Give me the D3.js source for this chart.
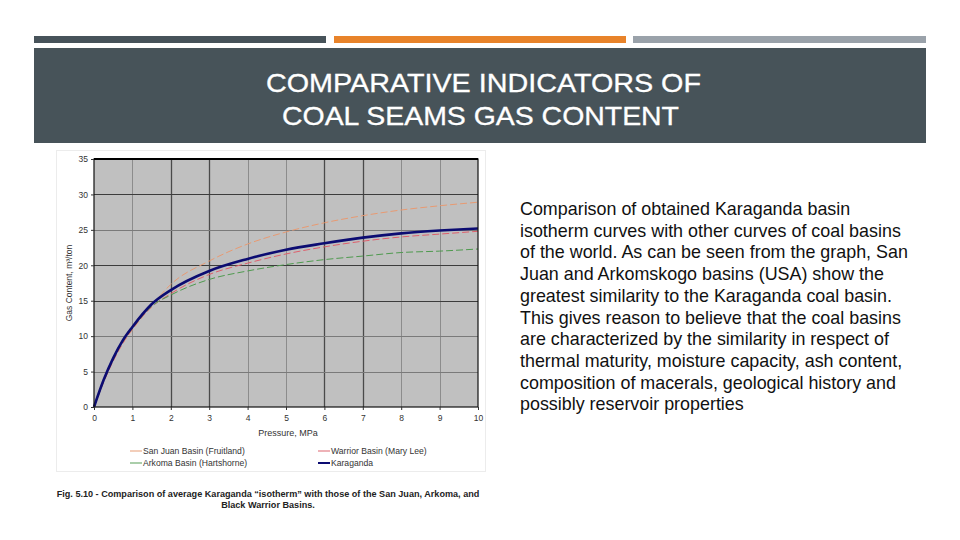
<!DOCTYPE html>
<html>
<head>
<meta charset="utf-8">
<script src="https://cdn.jsdelivr.net/npm/d3@7"></script>
<style>
  html, body { margin: 0; padding: 0; background: #ffffff; }
  svg { display: block; font-family: "Liberation Sans", Arial, sans-serif; }
</style>
</head>
<body>
<svg id="chart" width="960" height="540"></svg>
<script>
// ---- data ----
const pressure = [0, 0.25, 0.5, 0.75, 1, 1.5, 2, 3, 4, 5, 6, 7, 8, 9, 10];
const sanJuan   = [0, 3.5, 6.5, 9.0, 10.9, 14.3, 17.3, 20.6, 23.0, 24.7, 26.0, 27.0, 27.8, 28.4, 28.9];
const warrior   = [0, 3.5, 6.5, 9.0, 11.0, 14.1, 16.0, 18.7, 20.3, 21.6, 22.6, 23.4, 24.0, 24.4, 24.8];
const arkoma    = [0, 3.6, 6.7, 9.2, 11.1, 14.2, 15.8, 18.0, 19.2, 20.1, 20.8, 21.3, 21.8, 22.0, 22.3];
const karaganda = [0, 3.8, 6.9, 9.4, 11.3, 14.5, 16.5, 19.2, 20.9, 22.2, 23.1, 23.9, 24.5, 24.9, 25.2];
const seriesNames = ["San Juan Basin (Fruitland)", "Warrior Basin (Mary Lee)", "Arkoma Basin (Hartshorne)", "Karaganda"];
const xTicks = [0, 1, 2, 3, 4, 5, 6, 7, 8, 9, 10];
const yTicks = [0, 5, 10, 15, 20, 25, 30, 35];
const titleLines = ["COMPARATIVE INDICATORS OF", "COAL SEAMS GAS CONTENT"];
const paragraph = [
  "Comparison of obtained Karaganda basin",
  "isotherm curves with other curves of coal basins",
  "of the world. As can be seen from the graph, San",
  "Juan and Arkomskogo basins (USA) show the",
  "greatest similarity to the Karaganda coal basin.",
  "This gives reason to believe that the coal basins",
  "are characterized by the similarity in respect of",
  "thermal maturity, moisture capacity, ash content,",
  "composition of macerals, geological history and",
  "possibly reservoir properties"
];
const captionLines = [
  "Fig. 5.10 - Comparison of average Karaganda \u201cisotherm\u201d with those of the San Juan, Arkoma, and",
  "Black Warrior Basins."
];

(function () {
const svg = d3.select("#chart");

// ---- slide header ----
const barColors = ["#47535a", "#e8832a", "#9aa2aa"];
const bars = [[34, 326], [334, 626], [633, 926]];
bars.forEach((b, i) => {
  svg.append("rect").attr("x", b[0]).attr("y", 36).attr("width", b[1] - b[0]).attr("height", 7).attr("fill", barColors[i]);
});
svg.append("rect").attr("x", 34).attr("y", 48).attr("width", 892).attr("height", 95).attr("fill", "#475359");
const titleX = [266, 282], titleW = [435, 397];
svg.append("g").selectAll("text").data(titleLines).join("text")
  .attr("x", (d, i) => titleX[i])
  .attr("y", (d, i) => 91.5 + i * 33)
  .attr("textLength", (d, i) => titleW[i])
  .attr("lengthAdjust", "spacingAndGlyphs")
  .attr("fill", "#ffffff")
  .attr("stroke", "#ffffff").attr("stroke-width", 0.3)
  .attr("font-size", 26)
  .text(d => d);

// ---- paragraph ----
svg.append("g").selectAll("text").data(paragraph).join("text")
  .attr("x", 520)
  .attr("y", (d, i) => 215 + i * 21.7)
  .attr("fill", "#111")
  .attr("font-size", 17.9)
  .text(d => d);

// ---- chart figure ----
svg.append("rect").attr("x", 56.5).attr("y", 150.5).attr("width", 429).attr("height", 321)
  .attr("fill", "#fff").attr("stroke", "#ececec").attr("stroke-width", 1);

const pL = 94, pR = 478, pT = 159, pB = 407;
const x = d3.scaleLinear().domain([0, 10]).range([pL, pR]);
const y = d3.scaleLinear().domain([0, 35]).range([pB, pT]);

svg.append("rect").attr("x", pL).attr("y", pT).attr("width", pR - pL).attr("height", pB - pT).attr("fill", "#c0c0c0");

// grid
const darkX = new Set([2, 3, 6, 7]);
svg.append("g").selectAll("line").data(xTicks.filter(t => t > 0 && t < 10)).join("line")
  .attr("x1", d => Math.round(x(d)) + 0.5).attr("x2", d => Math.round(x(d)) + 0.5)
  .attr("y1", pT).attr("y2", pB)
  .attr("stroke", d => darkX.has(d) ? "#4a4a4a" : "#8c8c8c").attr("stroke-width", d => darkX.has(d) ? 1.3 : 1);
const lightY = new Set([25, 10, 5]);
svg.append("g").selectAll("line").data(yTicks.filter(t => t > 0 && t < 35)).join("line")
  .attr("x1", pL).attr("x2", pR)
  .attr("y1", d => Math.round(y(d)) + 0.5).attr("y2", d => Math.round(y(d)) + 0.5)
  .attr("stroke", d => lightY.has(d) ? "#7a7a7a" : "#3c3c3c").attr("stroke-width", 1);

// series
const series = [
  { name: seriesNames[0], values: sanJuan, color: "#e89a72", width: 1, dash: "7,3" },
  { name: seriesNames[1], values: warrior, color: "#de5f6c", width: 1, dash: "7,3" },
  { name: seriesNames[2], values: arkoma, color: "#4f9a4f", width: 1, dash: "7,3" },
  { name: seriesNames[3], values: karaganda, color: "#0c0c72", width: 2.6, dash: null }
];
const line = d3.line().x(d => x(d[0])).y(d => y(d[1])).curve(d3.curveMonotoneX);
series.forEach(s => {
  svg.append("path")
    .datum(pressure.map((p, i) => [p, s.values[i]]))
    .attr("d", line)
    .attr("fill", "none")
    .attr("stroke", s.color)
    .attr("stroke-width", s.width)
    .attr("stroke-dasharray", s.dash);
});

// frame
svg.append("rect").attr("x", pL).attr("y", pT).attr("width", pR - pL).attr("height", pB - pT)
  .attr("fill", "none").attr("stroke", "#111").attr("stroke-width", 1.2);
svg.append("line").attr("x1", pL).attr("x2", pR).attr("y1", pT).attr("y2", pT).attr("stroke", "#000").attr("stroke-width", 2.2);

// axes
const xAxis = d3.axisBottom(x).tickValues(xTicks).tickSize(3).tickFormat(d3.format("d"));
const gx = svg.append("g").attr("transform", `translate(0,${pB})`).call(xAxis);
const yAxis = d3.axisLeft(y).tickValues(yTicks).tickSize(3).tickFormat(d3.format("d"));
const gy = svg.append("g").attr("transform", `translate(${pL},0)`).call(yAxis);
[gx, gy].forEach(g => {
  g.select(".domain").remove();
  g.selectAll("line").attr("stroke", "#333");
  g.selectAll("text").attr("font-size", 8.5).attr("fill", "#333").attr("font-family", "Liberation Sans, Arial, sans-serif");
});
gx.selectAll("text").attr("dy", "0.9em");

svg.append("text").attr("x", 288).attr("y", 436).attr("text-anchor", "middle")
  .attr("font-size", 9).attr("fill", "#333").text("Pressure, MPa");
svg.append("text").attr("transform", `translate(72,${(pT + pB) / 2}) rotate(-90)`).attr("text-anchor", "middle")
  .attr("font-size", 8.5).attr("fill", "#333").text("Gas Content, m\u00b3/ton");

// legend
const legendPos = [[130, 451], [318, 451], [130, 463], [318, 463]];
series.forEach((s, i) => {
  const [lx, ly] = legendPos[i];
  svg.append("line").attr("x1", lx).attr("x2", lx + 12).attr("y1", ly).attr("y2", ly)
    .attr("stroke", s.color).attr("stroke-width", i === 3 ? 2 : 1.2).attr("opacity", i === 3 ? 1 : 0.8);
  svg.append("text").attr("x", lx + 13).attr("y", ly + 3).attr("font-size", 8.6).attr("fill", "#333").text(s.name);
});

// caption
svg.append("g").selectAll("text").data(captionLines).join("text")
  .attr("x", 268).attr("y", (d, i) => 497 + i * 11)
  .attr("text-anchor", "middle").attr("font-size", 9.1).attr("font-weight", "bold").attr("fill", "#222")
  .text(d => d);
})();
</script>
</body>
</html>
